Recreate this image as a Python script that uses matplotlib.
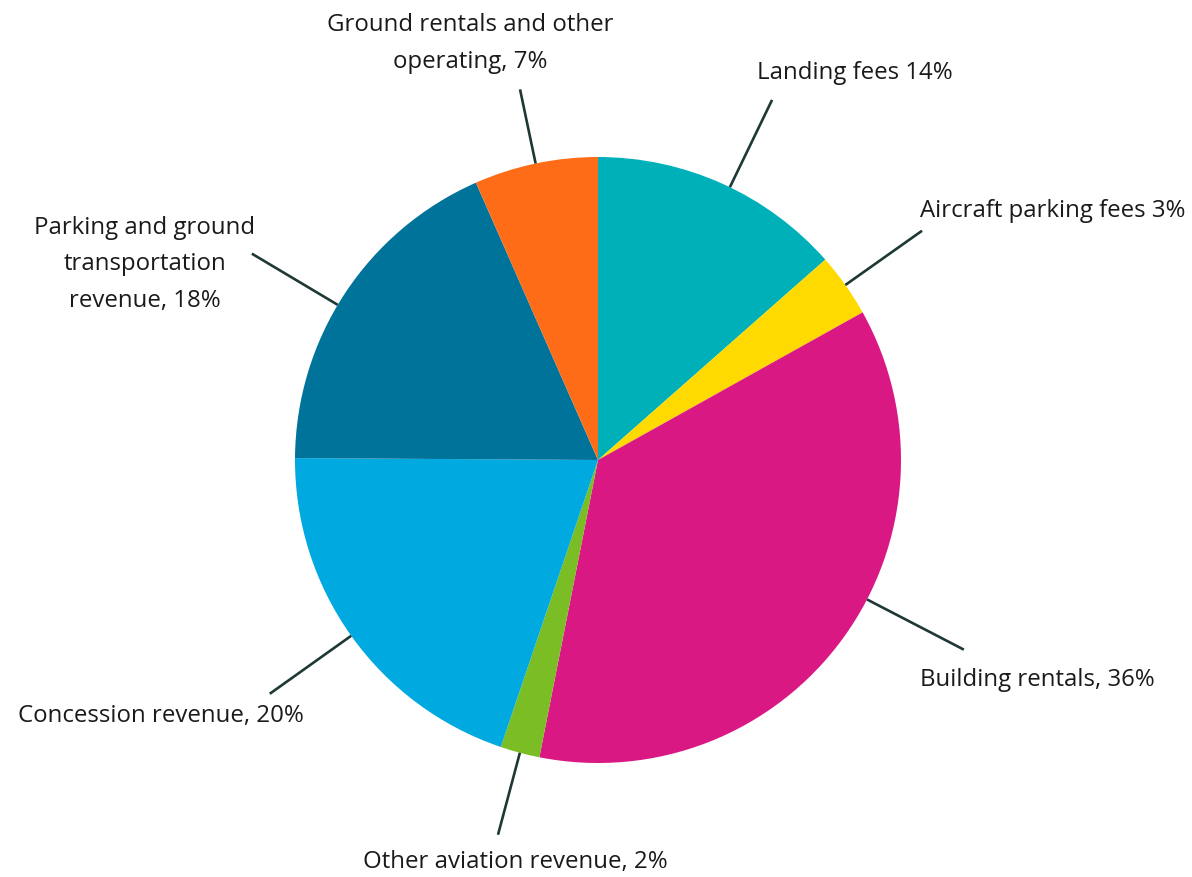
import numpy as np
import matplotlib
matplotlib.use("Agg")
import matplotlib.pyplot as plt

W, H = 1192, 877

# slices, clockwise from 12 o'clock
categories = ["Landing fees", "Aircraft parking fees", "Building rentals",
              "Other aviation revenue", "Concession revenue",
              "Parking and ground transportation revenue",
              "Ground rentals and other operating"]
shares = [13.5, 3.4, 36.2, 2.1, 19.9, 18.3, 6.6]
labels = ["Landing fees 14%", "Aircraft parking fees 3%", "Building rentals, 36%",
          "Other aviation revenue, 2%", "Concession revenue, 20%",
          "Parking and ground\ntransportation\nrevenue, 18%",
          "Ground rentals and other\noperating, 7%"]
colors = ["#00B0B9", "#FFDA00", "#DA1884", "#7ABD24", "#00A9DF", "#00739A", "#FF6C17"]

# label layout (pixel coords of the reference, y down; baseline of last line)
text_pos = [(757, 79, "left"), (920, 217, "left"), (920, 686, "left"),
            (515, 868, "center"), (18, 722, "left"), (145, 307, "center"),
            (470, 68, "center")]
leader_len = [1.32, 1.31, 1.36, 1.28, 1.33, 1.33, 1.25]
leader_nudge = [1.5, 0, -8.6, 0, 0, -2.5, 0]

CX, CY, R = 598, 460, 303

plt.rcParams["font.family"] = ["Open Sans", "DejaVu Sans"]
fig = plt.figure(figsize=(W / 100, H / 100), dpi=100)
ax = fig.add_axes([0, 0, 1, 1])
ax.pie(shares, colors=colors, startangle=90, counterclock=False,
       center=(CX, H - CY), radius=R, frame=True,
       wedgeprops=dict(linewidth=0))
ax.set_xlim(0, W)
ax.set_ylim(0, H)
ax.axis("off")

cum = np.cumsum([0] + shares[:-1])
for i, lab in enumerate(labels):
    th = np.radians(360 * (cum[i] + shares[i] / 2) / 100 + leader_nudge[i])
    x0, y0 = CX + R * np.sin(th), H - CY + R * np.cos(th)
    x1, y1 = CX + R * leader_len[i] * np.sin(th), H - CY + R * leader_len[i] * np.cos(th)
    ax.plot([x0, x1], [y0, y1], color="#1E3836", lw=1.9, solid_capstyle="butt")
    tx, ty, ha = text_pos[i]
    ax.text(tx, H - ty, lab, ha=ha, va="baseline", fontsize=17.3,
            color="#1a1a1a", linespacing=1.7, multialignment="center")

fig.savefig("out.png", dpi=100)
